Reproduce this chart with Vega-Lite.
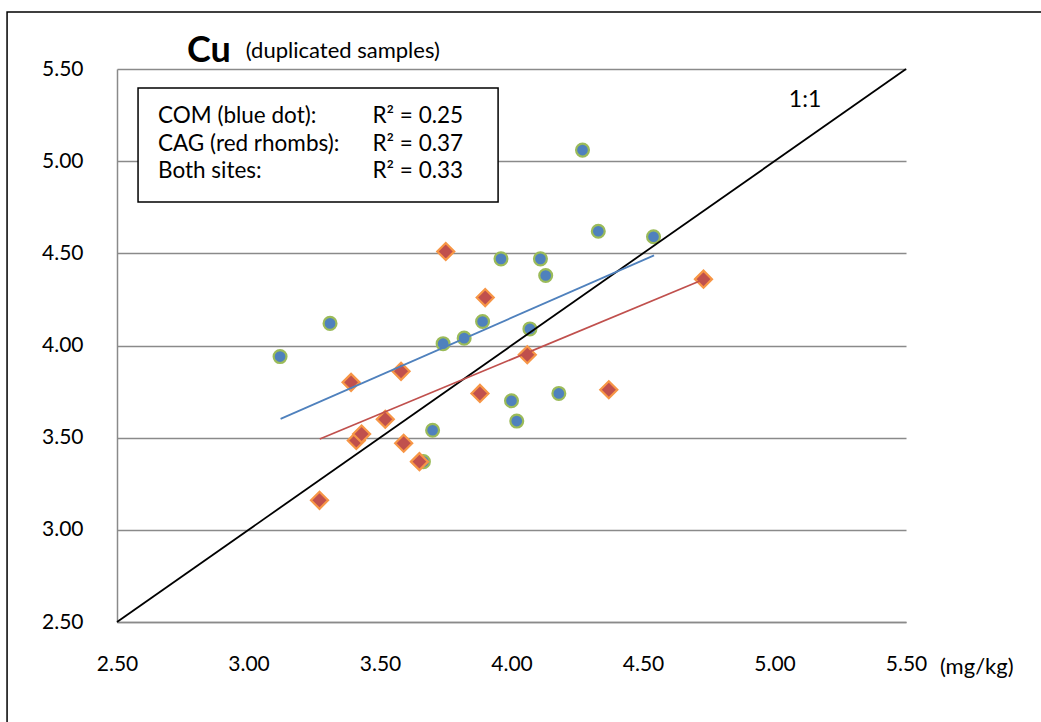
{
  "$schema": "https://vega.github.io/schema/vega-lite/v6.json",
  "width": 789,
  "height": 553,
  "autosize": {"type": "none"},
  "padding": {"left": 117, "top": 69, "right": 135, "bottom": 100},
  "background": "white",
  "config": {
    "font": "Lato",
    "view": {"stroke": null},
    "axis": {"labelFont": "Lato", "labelColor": "#000000", "labelFontSize": 21, "ticks": false, "title": null, "domainColor": "#8a8a8a", "domainWidth": 1.5, "gridColor": "#8a8a8a", "gridWidth": 1.5}
  },
  "datasets": {
    "pts": [
      {"site": "COM", "x": 3.12, "y": 3.94},
      {"site": "COM", "x": 3.31, "y": 4.12},
      {"site": "COM", "x": 3.74, "y": 4.01},
      {"site": "COM", "x": 3.82, "y": 4.04},
      {"site": "COM", "x": 3.89, "y": 4.13},
      {"site": "COM", "x": 4.07, "y": 4.09},
      {"site": "COM", "x": 4.00, "y": 3.70},
      {"site": "COM", "x": 4.18, "y": 3.74},
      {"site": "COM", "x": 4.02, "y": 3.59},
      {"site": "COM", "x": 3.70, "y": 3.54},
      {"site": "COM", "x": 3.665, "y": 3.37},
      {"site": "COM", "x": 3.96, "y": 4.47},
      {"site": "COM", "x": 4.11, "y": 4.47},
      {"site": "COM", "x": 4.13, "y": 4.38},
      {"site": "COM", "x": 4.33, "y": 4.62},
      {"site": "COM", "x": 4.54, "y": 4.59},
      {"site": "COM", "x": 4.27, "y": 5.06},
      {"site": "CAG", "x": 3.39, "y": 3.80},
      {"site": "CAG", "x": 3.58, "y": 3.86},
      {"site": "CAG", "x": 4.06, "y": 3.95},
      {"site": "CAG", "x": 3.88, "y": 3.74},
      {"site": "CAG", "x": 3.52, "y": 3.60},
      {"site": "CAG", "x": 3.41, "y": 3.485},
      {"site": "CAG", "x": 3.43, "y": 3.52},
      {"site": "CAG", "x": 3.59, "y": 3.47},
      {"site": "CAG", "x": 3.65, "y": 3.37},
      {"site": "CAG", "x": 3.27, "y": 3.16},
      {"site": "CAG", "x": 3.75, "y": 4.51},
      {"site": "CAG", "x": 3.90, "y": 4.26},
      {"site": "CAG", "x": 4.73, "y": 4.36},
      {"site": "CAG", "x": 4.37, "y": 3.76}
    ],
    "lines": [
      {"series": "1:1", "x": 2.5, "y": 2.5},
      {"series": "1:1", "x": 5.5, "y": 5.5},
      {"series": "COM", "x": 3.122, "y": 3.602},
      {"series": "COM", "x": 4.542, "y": 4.489},
      {"series": "CAG", "x": 3.271, "y": 3.493},
      {"series": "CAG", "x": 4.732, "y": 4.359}
    ]
  },
  "layer": [
    {
      "data": {"name": "pts"},
      "mark": {"type": "point", "filled": true, "strokeWidth": 2.2, "opacity": 1, "clip": false},
      "encoding": {
        "x": {"field": "x", "type": "quantitative", "scale": {"domain": [2.5, 5.5], "nice": false, "zero": false},
              "axis": {"values": [2.5, 3, 3.5, 4, 4.5, 5, 5.5], "format": ".2f", "grid": false, "labelPadding": 31, "labelFlush": false}},
        "y": {"field": "y", "type": "quantitative", "scale": {"domain": [2.5, 5.5], "nice": false, "zero": false},
              "axis": {"values": [2.5, 3, 3.5, 4, 4.5, 5, 5.5], "format": ".2f", "grid": true, "labelPadding": 34}},
        "fill": {"field": "site", "type": "nominal", "scale": {"domain": ["COM", "CAG"], "range": ["#4F81BD", "#C0504D"]}, "legend": null},
        "stroke": {"field": "site", "type": "nominal", "scale": {"domain": ["COM", "CAG"], "range": ["#9BBB59", "#F79646"]}, "legend": null},
        "shape": {"field": "site", "type": "nominal", "scale": {"domain": ["COM", "CAG"], "range": ["circle", "diamond"]}, "legend": null},
        "size": {"field": "site", "type": "nominal", "scale": {"domain": ["COM", "CAG"], "range": [165, 290]}, "legend": null}
      }
    },
    {
      "data": {"name": "lines"},
      "mark": {"type": "line", "clip": false},
      "encoding": {
        "x": {"field": "x", "type": "quantitative"},
        "y": {"field": "y", "type": "quantitative"},
        "detail": {"field": "series"},
        "color": {"field": "series", "type": "nominal", "scale": {"domain": ["1:1", "COM", "CAG"], "range": ["#000000", "#4F81BD", "#C0504D"]}, "legend": null},
        "strokeWidth": {"field": "series", "type": "nominal", "scale": {"domain": ["1:1", "COM", "CAG"], "range": [1.8, 1.7, 1.7]}, "legend": null}
      }
    },
    {
      "data": {"values": [{}]},
      "mark": {"type": "rect", "filled": false, "stroke": "#000000", "strokeWidth": 1.5, "clip": false},
      "encoding": {
        "x": {"datum": 2.082, "type": "quantitative"},
        "x2": {"datum": 6.3},
        "y": {"datum": 5.809, "type": "quantitative"},
        "y2": {"datum": 1.8}
      }
    },
    {
      "data": {"values": [{}]},
      "mark": {"type": "rect", "fill": "#ffffff", "stroke": "#000000", "strokeWidth": 1.5, "clip": false},
      "encoding": {
        "x": {"datum": 2.580, "type": "quantitative"},
        "x2": {"datum": 3.949},
        "y": {"datum": 5.397, "type": "quantitative"},
        "y2": {"datum": 4.779}
      }
    },
    {
      "data": {"values": [{}]},
      "mark": {"type": "text", "align": "left", "baseline": "alphabetic", "fontSize": 22.5, "lineHeight": 27.5, "color": "#000000", "clip": false},
      "encoding": {
        "x": {"datum": 2.656, "type": "quantitative"},
        "y": {"datum": 5.207, "type": "quantitative"},
        "text": {"value": ["COM (blue dot):", "CAG (red rhombs):", "Both sites:"]}
      }
    },
    {
      "data": {"values": [{}]},
      "mark": {"type": "text", "align": "right", "baseline": "alphabetic", "fontSize": 22.5, "lineHeight": 27.5, "color": "#000000", "clip": false},
      "encoding": {
        "x": {"datum": 3.816, "type": "quantitative"},
        "y": {"datum": 5.207, "type": "quantitative"},
        "text": {"value": ["R² = 0.25", "R² = 0.37", "R² = 0.33"]}
      }
    },
    {
      "data": {"values": [{}]},
      "mark": {"type": "text", "align": "left", "baseline": "alphabetic", "fontSize": 36, "fontWeight": "bold", "color": "#000000", "clip": false},
      "encoding": {
        "x": {"datum": 2.766, "type": "quantitative"},
        "y": {"datum": 5.538, "type": "quantitative"},
        "text": {"value": "Cu"}
      }
    },
    {
      "data": {"values": [{}]},
      "mark": {"type": "text", "align": "left", "baseline": "alphabetic", "fontSize": 22, "color": "#000000", "clip": false},
      "encoding": {
        "x": {"datum": 2.990, "type": "quantitative"},
        "y": {"datum": 5.560, "type": "quantitative"},
        "text": {"value": "(duplicated samples)"}
      }
    },
    {
      "data": {"values": [{}]},
      "mark": {"type": "text", "align": "center", "baseline": "middle", "fontSize": 23, "color": "#000000", "clip": false},
      "encoding": {
        "x": {"datum": 5.116, "type": "quantitative"},
        "y": {"datum": 5.332, "type": "quantitative"},
        "text": {"value": "1:1"}
      }
    },
    {
      "data": {"values": [{}]},
      "mark": {"type": "text", "align": "left", "baseline": "middle", "fontSize": 22, "color": "#000000", "clip": false},
      "encoding": {
        "x": {"datum": 5.629, "type": "quantitative"},
        "y": {"datum": 2.257, "type": "quantitative"},
        "text": {"value": "(mg/kg)"}
      }
    }
  ]
}
